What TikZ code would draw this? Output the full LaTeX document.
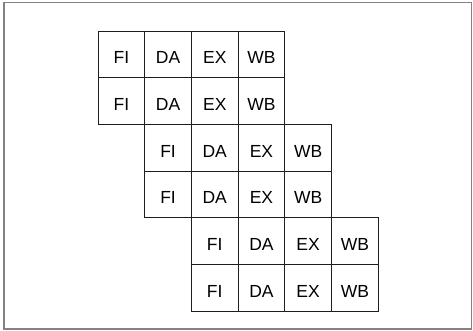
\documentclass[tikz,border=0pt]{standalone}
\usepackage{fontspec}
\setmainfont{Liberation Sans}
\usetikzlibrary{positioning}
\definecolor{FrameGray}{RGB}{130,130,130}
\definecolor{CellLine}{RGB}{30,30,30}

\tikzset{
	stagecell/.style={
		draw=CellLine,
		line width=1pt,
		minimum width=46.7pt,
		minimum height=46.7pt,
		inner sep=0pt,
		outer sep=0pt,
		text height=19pt,
		text depth=0pt,
		font=\fontsize{17.5}{20}\selectfont
	}
}

\begin{document}
\begin{tikzpicture}[x=1pt,y=-1pt]
	
	\useasboundingbox (0,0) rectangle (473,330);
	\draw[FrameGray, line width=1.2pt] (4,2.5) rectangle (471.5,329);
	
	% one row per instruction, shifted one stage every two rows
	\foreach \r/\dx in {1/0,2/0,3/1,4/1,5/2,6/2}{
		\foreach \t [count=\c] in {FI,DA,EX,WB}{
			\node[stagecell] (r\r c\c) at ({98+46.7*(\dx+\c-1)+23.35}, {31+46.7*(\r-1)+23.35}) {\t};
		}
	}
	
\end{tikzpicture}
\end{document}
